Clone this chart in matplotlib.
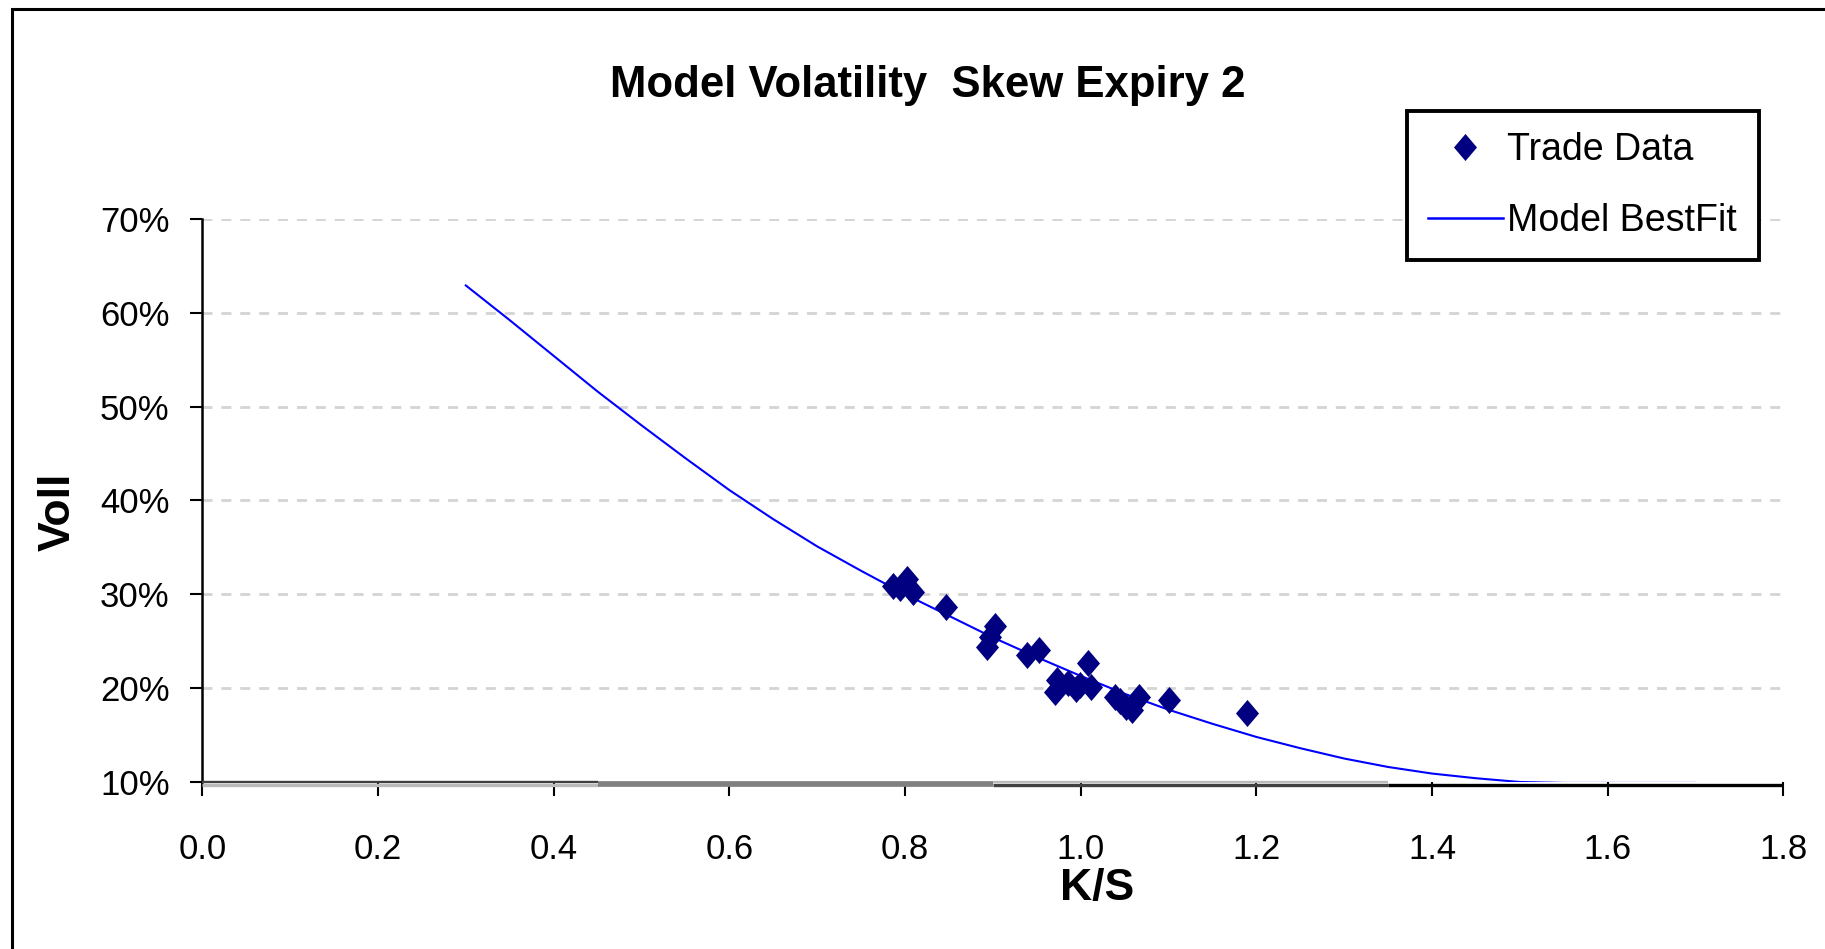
import matplotlib
matplotlib.use("Agg")
import matplotlib.pyplot as plt
from matplotlib.patches import Rectangle
from matplotlib.lines import Line2D
from matplotlib.ticker import FuncFormatter

plt.rcParams['font.family'] = ['Liberation Sans', 'DejaVu Sans']

# Observed trades: strike / spot and implied vol (%)
trade_ks = [0.786, 0.794, 0.802, 0.809, 0.847, 0.893, 0.897, 0.902, 0.939, 0.952,
            0.971, 0.973, 0.986, 0.995, 0.999, 1.008, 1.012, 1.039, 1.045, 1.052,
            1.058, 1.066, 1.101, 1.189]
trade_vol = [30.9, 30.7, 31.6, 30.2, 28.6, 24.4, 25.5, 26.6, 23.5, 24.1,
             19.6, 20.9, 20.5, 19.9, 20.3, 22.7, 20.1, 19.1, 18.6, 18.0,
             17.7, 19.1, 18.7, 17.3]

# Fitted model skew (%)
model_ks = [0.30, 0.35, 0.40, 0.45, 0.50, 0.55, 0.60, 0.65, 0.70, 0.75,
            0.80, 0.85, 0.90, 0.95, 1.00, 1.05, 1.10, 1.15, 1.20, 1.25,
            1.30, 1.35, 1.40, 1.45, 1.50, 1.55, 1.60, 1.65, 1.70]
model_vol = [62.9, 59.2, 55.4, 51.6, 48.0, 44.5, 41.1, 38.0, 35.1, 32.5,
             30.0, 27.7, 25.4, 23.3, 21.3, 19.4, 17.7, 16.2, 14.8, 13.6,
             12.5, 11.6, 10.9, 10.4, 10.0, 9.9, 9.9, 9.9, 9.9]

x_ticks = [0.0, 0.2, 0.4, 0.6, 0.8, 1.0, 1.2, 1.4, 1.6, 1.8]
y_ticks = [10, 20, 30, 40, 50, 60, 70]

W, H = 1825, 949
fig = plt.figure(figsize=(W / 100, H / 100), dpi=100)
fig.patch.set_facecolor('white')

# outer chart-area border
fig.patches.append(Rectangle((12 / W, -0.05), 1.2, 1 - 8.5 / H + 0.05,
                             transform=fig.transFigure, fill=False,
                             edgecolor='black', linewidth=2.2))

left, right = 202.3 / W, 1783.4 / W
bottom, top = 1 - 782 / H, 1 - 218.8 / H
ax = fig.add_axes([left, bottom, right - left, top - bottom])

navy = '#000080'
blue = '#0000ff'

# diamond slightly narrower than tall
diamond = [(0, 1), (0.85, 0), (0, -1), (-0.85, 0), (0, 1)]

ax.plot(model_ks, model_vol, color=blue, lw=1.5, zorder=3, label='Model BestFit')
ax.plot(trade_ks, trade_vol, linestyle='none', marker=diamond, markersize=19.5,
        color=navy, markeredgewidth=0, zorder=4, label='Trade Data')

ax.set_xlim(0, 1.8)
ax.set_ylim(10, 70)
ax.set_xticks(x_ticks)
ax.set_yticks(y_ticks)
ax.xaxis.set_major_formatter(FuncFormatter(lambda v, p: f"{v:.1f}"))
ax.yaxis.set_major_formatter(FuncFormatter(lambda v, p: f"{v:.0f}%"))

for yv in y_ticks[1:]:
    ax.axhline(yv, color='#d4d4d4', lw=2.0, linestyle=(0, (3.6, 3.2)), zorder=1)

for s in ('top', 'right', 'bottom'):
    ax.spines[s].set_visible(False)
ax.spines['left'].set_linewidth(1.8)
ax.spines['left'].set_color('black')

# shaded baseline band along the category axis
seg = [(0.0, 0.45), (0.45, 0.9), (0.9, 1.35), (1.35, 1.8)]
ax.plot(seg[0], [9.98, 9.98], color='#404040', lw=1.7, clip_on=False, zorder=2.6, solid_capstyle='butt')
ax.plot(seg[0], [9.68, 9.68], color='#bbbbbb', lw=2.4, clip_on=False, zorder=2.6, solid_capstyle='butt')
ax.plot(seg[1], [9.81, 9.81], color='#808080', lw=4.1, clip_on=False, zorder=2.6, solid_capstyle='butt')
ax.plot(seg[2], [9.98, 9.98], color='#bbbbbb', lw=1.7, clip_on=False, zorder=2.6, solid_capstyle='butt')
ax.plot(seg[2], [9.68, 9.68], color='#404040', lw=2.4, clip_on=False, zorder=2.6, solid_capstyle='butt')
ax.plot(seg[3], [9.72, 9.72], color='#000000', lw=2.4, clip_on=False, zorder=2.6, solid_capstyle='butt')

ax.tick_params(axis='x', direction='out', length=10, width=1.5, pad=27, labelsize=25, colors='black')
ax.tick_params(axis='y', direction='out', length=8.6, width=1.5, pad=15, labelsize=25, colors='black')
ax.set_facecolor('white')

# titles and axis names
fig.text(928 / W, 1 - 97 / H, 'Model Volatility  Skew Expiry 2', ha='center', va='baseline',
         fontsize=31.5, fontweight='bold')
fig.text(1097 / W, 1 - 900 / H, 'K/S', ha='center', va='baseline',
         fontsize=32, fontweight='bold')
fig.text(58 / W, 1 - 512 / H, 'Voll', ha='center', va='center', rotation=90,
         fontsize=32, fontweight='bold')

handles = [Line2D([], [], linestyle='none', marker=diamond, markersize=19.5, color=navy,
                  markeredgewidth=0),
           Line2D([], [], color=blue, lw=1.8)]
leg = ax.legend(handles, ['Trade Data', 'Model BestFit'], loc='upper left',
                bbox_to_anchor=(1407 / W, 1 - 111 / H, (1759 - 1407) / W, 0),
                bbox_transform=fig.transFigure, mode='expand', borderaxespad=0,
                fontsize=27, frameon=True, fancybox=False, edgecolor='black',
                framealpha=1, handlelength=2.0, handletextpad=0.12,
                labelspacing=0.95, borderpad=0.55)
leg.get_frame().set_linewidth(2.8)

fig.savefig('out.png', dpi=100, facecolor='white')
